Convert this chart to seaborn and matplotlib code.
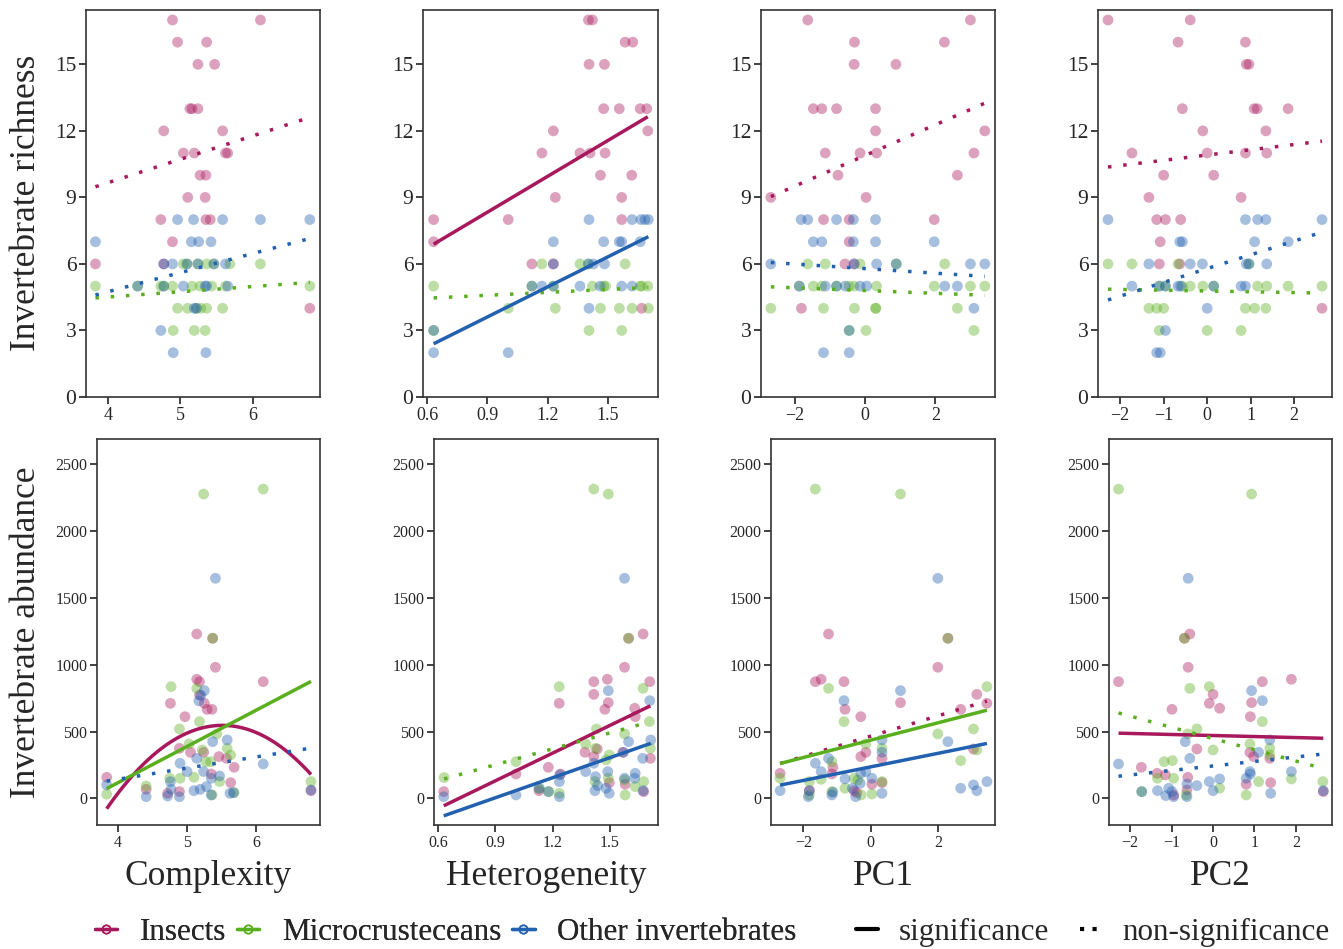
import numpy as np
import pandas as pd
import matplotlib
matplotlib.use("Agg")
import matplotlib.pyplot as plt
import seaborn as sns
from matplotlib.lines import Line2D

groups = ["Insects", "Microcrusteceans", "Other invertebrates"]
colors = ["#A8185C", "#5AAF1E", "#2260B0"]

# ---- Complexity / richness
cx_rich_ins_x = [4.89, 6.10, 4.96, 5.36, 5.24, 5.47, 5.13, 5.16, 5.24, 4.77, 5.58, 5.04, 5.19, 5.62, 5.65,
                 5.27, 5.35, 5.10, 5.34, 4.73, 5.35, 5.41, 4.89, 3.83, 4.77, 6.78]
cx_rich_ins_y = [17, 17, 16, 16, 15, 15, 13, 13, 13, 12, 12, 11, 11, 11, 11, 10, 10, 9, 9, 8, 8, 8, 7, 6, 6, 4]
cx_rich_mic_x = [5.04, 5.09, 5.24, 5.36, 5.46, 5.68, 6.10, 3.83, 4.41, 4.73, 4.77, 4.89, 5.16, 5.27, 5.43,
                 5.62, 6.78, 4.96, 5.10, 5.22, 5.28, 5.36, 5.58, 4.90, 5.19, 5.34]
cx_rich_mic_y = [6, 6, 6, 6, 6, 6, 6, 5, 5, 5, 5, 5, 5, 5, 5, 5, 5, 4, 4, 4, 4, 4, 4, 3, 3, 3]
cx_rich_oth_x = [4.96, 5.18, 5.58, 6.10, 6.78, 3.83, 5.15, 5.25, 5.42, 4.77, 4.89, 5.09, 5.24, 5.46, 5.62,
                 4.41, 4.77, 5.04, 5.34, 5.36, 5.65, 5.19, 5.22, 4.73, 4.90, 5.35]
cx_rich_oth_y = [8, 8, 8, 8, 8, 7, 7, 7, 7, 6, 6, 6, 6, 6, 6, 5, 5, 5, 5, 5, 5, 4, 4, 3, 2, 2]

# ---- Heterogeneity / richness
he_rich_ins_x = [1.404, 1.424, 1.587, 1.625, 1.407, 1.484, 1.480, 1.558, 1.662, 1.695, 1.229, 1.700, 1.172,
                 1.362, 1.412, 1.487, 1.464, 1.620, 1.239, 1.570, 0.632, 1.004, 1.570, 0.632, 1.122, 1.229, 1.670]
he_rich_ins_y = [17, 17, 16, 16, 15, 15, 13, 13, 13, 13, 12, 12, 11, 11, 11, 11, 10, 10, 9, 9, 8, 8, 8, 7, 6, 6, 4]
he_rich_mic_x = [1.172, 1.362, 1.404, 1.587, 0.632, 1.122, 1.229, 1.424, 1.480, 1.490, 1.662, 1.670, 1.700,
                 1.004, 1.239, 1.464, 1.558, 1.622, 1.703, 0.632, 1.407, 1.570]
he_rich_mic_y = [6, 6, 6, 6, 5, 5, 5, 5, 5, 5, 5, 5, 5, 4, 4, 4, 4, 4, 4, 3, 3, 3]
he_rich_oth_x = [1.407, 1.622, 1.666, 1.686, 1.703, 1.229, 1.480, 1.558, 1.570, 1.662, 1.229, 1.404, 1.429,
                 1.484, 1.122, 1.172, 1.229, 1.362, 1.462, 1.570, 1.622, 1.407, 0.632, 0.632, 1.004]
he_rich_oth_y = [8, 8, 8, 8, 8, 7, 7, 7, 7, 7, 6, 6, 6, 6, 5, 5, 5, 5, 5, 5, 5, 4, 3, 2, 2]

# ---- PC1 / richness
p1_rich_ins_x = [-1.63, 3.00, -0.30, 2.26, -0.31, 0.88, -1.47, -1.23, -0.81, 0.30, 0.30, 3.41, -1.13, -0.14,
                 0.33, 3.10, -0.77, 2.63, -2.68, 0.03, -1.18, -0.45, 1.97, -0.45, -0.57, -0.31, -1.81]
p1_rich_ins_y = [17, 17, 16, 16, 15, 15, 13, 13, 13, 13, 12, 12, 11, 11, 11, 11, 10, 10, 9, 9, 8, 8, 8, 7, 6, 6, 4]
p1_rich_mic_x = [-1.63, -1.13, -0.14, 0.89, 2.27, -1.87, -1.47, -1.23, -0.81, -0.45, -0.31, 0.33, 1.97, 3.00,
                 3.41, -2.68, -1.18, -0.30, 0.30, 0.31, 2.63, -0.45, 0.03, 3.10]
p1_rich_mic_y = [6, 6, 6, 6, 6, 5, 5, 5, 5, 5, 5, 5, 5, 5, 5, 4, 4, 4, 4, 4, 4, 3, 3, 3]
p1_rich_oth_x = [-1.82, -1.63, -0.81, -0.33, 0.30, -1.47, -1.23, -0.33, 0.30, 1.97, -2.68, -0.31, 0.33, 0.89,
                 3.00, 3.41, -1.87, -1.13, -0.81, -0.56, -0.14, 0.05, 2.27, 2.63, 3.10, -0.45, -1.18, -0.45]
p1_rich_oth_y = [8, 8, 8, 8, 8, 7, 7, 7, 7, 7, 6, 6, 6, 6, 6, 6, 5, 5, 5, 5, 5, 5, 5, 5, 4, 3, 2, 2]

# ---- PC2 / richness
p2_rich_ins_x = [-2.28, -0.39, -0.67, 0.88, 0.90, 0.96, -0.57, 1.08, 1.15, 1.86, -0.10, 1.35, -1.73, 0.00,
                 0.88, 1.37, -1.00, 0.15, -1.34, 0.78, -1.16, -0.96, -0.61, -1.08, -1.10, -0.63, 2.64]
p2_rich_ins_y = [17, 17, 16, 16, 15, 15, 13, 13, 13, 13, 12, 12, 11, 11, 11, 11, 10, 10, 9, 9, 8, 8, 8, 7, 6, 6, 4]
p2_rich_mic_x = [-2.28, -1.73, -0.67, 0.96, -1.10, -0.96, -0.57, -0.39, -0.10, 0.15, 1.16, 1.37, 1.86, 2.64,
                 -1.34, -1.16, -1.00, 0.88, 1.09, 1.35, -1.10, 0.00, 0.78]
p2_rich_mic_y = [6, 6, 6, 6, 5, 5, 5, 5, 5, 5, 5, 5, 5, 5, 4, 4, 4, 4, 4, 4, 3, 3, 3]
p2_rich_oth_x = [-2.28, 0.88, 1.16, 1.35, 2.64, -0.63, -0.57, 1.09, 1.86, -1.34, -0.39, -0.11, 0.90, 0.96,
                 1.37, -1.73, -1.10, -0.96, -0.67, -0.61, 0.15, 0.78, 0.88, 0.00, -0.96, -1.16, -1.08]
p2_rich_oth_y = [8, 8, 8, 8, 8, 7, 7, 7, 7, 6, 6, 6, 6, 6, 6, 5, 5, 5, 5, 5, 5, 5, 5, 4, 3, 2, 2]

# ---- Complexity / abundance
cx_abun_ins_x = [5.14, 5.37, 5.41, 5.14, 5.18, 6.10, 4.76, 4.97, 5.18, 5.25, 5.29, 5.36, 4.89, 5.05, 5.24,
                 5.46, 5.57, 5.68, 3.84, 4.41, 4.72, 4.89, 5.35, 5.63, 6.79]
cx_abun_ins_y = [1230, 1198, 981, 891, 873, 873, 711, 611, 773, 711, 666, 666, 374, 344, 344,
                 312, 299, 232, 157, 67, 37, 50, 182, 117, 57]
cx_abun_mic_x = [5.24, 6.10, 4.77, 5.14, 5.18, 4.89, 5.43, 5.03, 5.58, 5.63, 5.22, 5.27, 4.75, 4.90, 5.10,
                 5.34, 5.47, 3.84, 6.79, 4.41, 5.36, 5.68, 5.37]
cx_abun_mic_y = [2278, 2315, 836, 823, 574, 519, 482, 407, 374, 324, 362, 274, 150, 150, 157,
                 274, 125, 30, 125, 92, 25, 42, 1198]
cx_abun_oth_x = [5.41, 5.25, 5.17, 5.20, 5.37, 5.58, 5.14, 6.10, 3.84, 4.90, 4.41, 4.76, 4.77, 4.72, 4.89,
                 5.00, 5.10, 5.19, 5.28, 5.35, 5.47, 5.62, 5.67, 6.79, 5.35, 5.24]
cx_abun_oth_y = [1647, 806, 729, 770, 424, 437, 299, 257, 100, 262, 12, 125, 67, 17, 12,
                 200, 57, 67, 87, 150, 167, 37, 42, 62, 25, 200]

# ---- Heterogeneity / abundance
he_abun_ins_x = [1.673, 1.597, 1.576, 1.486, 1.415, 1.708, 1.415, 1.491, 1.234, 1.473, 1.629, 1.632, 1.369,
                 1.415, 1.433, 1.567, 1.711, 1.177, 1.241, 1.008, 1.496, 1.579, 0.630, 1.128, 1.676]
he_abun_ins_y = [1230, 1198, 981, 891, 873, 873, 778, 716, 711, 666, 674, 611, 344,
                 312, 369, 344, 299, 232, 182, 182, 117, 105, 50, 57, 50]
he_abun_mic_x = [1.415, 1.491, 1.234, 1.673, 1.706, 1.576, 1.429, 1.373, 1.496, 1.711, 0.632, 1.008, 1.421,
                 1.479, 1.579, 1.632, 1.676, 1.235, 1.131, 1.180, 1.424, 1.597, 1.491, 1.576]
he_abun_mic_y = [2315, 2278, 836, 823, 574, 482, 519, 407, 324, 374, 155, 274, 125,
                 287, 25, 87, 125, 37, 75, 50, 374, 1198, 150, 137]
he_abun_oth_x = [1.576, 1.491, 1.708, 1.713, 1.597, 1.570, 1.415, 1.671, 1.373, 1.424, 1.488, 1.632, 1.629,
                 1.235, 1.237, 1.435, 1.479, 1.421, 1.496, 1.576, 1.673, 1.008, 0.630, 1.128, 1.235, 1.177]
he_abun_oth_y = [1647, 806, 731, 437, 424, 344, 262, 299, 200, 162, 200, 187, 150,
                 125, 175, 95, 75, 57, 37, 150, 57, 25, 12, 75, 12, 50]

# ---- PC1 / abundance
p1_abun_ins_x = [-1.25, 2.30, 2.00, -1.64, -1.47, -0.79, 0.89, 3.16, 3.46, -0.76, 2.68, -0.29, -2.69, -1.12,
                 -1.15, -0.14, -0.29, 0.34, 0.34, 0.04, 3.06, -1.82, -0.49, -0.41]
p1_abun_ins_y = [1230, 1198, 981, 873, 891, 873, 716, 778, 711, 666, 666, 611, 187, 232,
                 182, 344, 312, 299, 117, 105, 369, 57, 57, 42]
p1_abun_mic_x = [-1.64, 0.89, -1.25, -0.79, 2.00, 3.06, 3.46, -0.14, 0.34, 3.16, 2.68, -1.15, -2.69, -1.47,
                 -1.82, -0.76, -0.49, -0.28, 0.04, 0.34, 2.30, -1.82, -1.15, -0.38]
p1_abun_mic_y = [2315, 2278, 823, 574, 482, 519, 836, 407, 374, 362, 282, 274, 150, 142,
                 125, 75, 150, 25, 32, 125, 1198, 25, 50, 137]
p1_abun_oth_x = [2.00, 0.89, -0.79, 0.34, 2.30, -1.64, -1.25, -1.47, -0.14, -0.76, 0.04, 0.34, -2.69, -1.82,
                 -1.85, -1.15, -1.12, -0.54, -0.44, -0.31, 0.34, 2.68, 3.06, 3.16, 3.46, -0.29]
p1_abun_oth_y = [1647, 806, 731, 437, 424, 262, 299, 200, 200, 145, 150, 344, 57, 57,
                 12, 25, 45, 75, 12, 112, 37, 75, 100, 57, 125, 187]

# ---- PC2 / abundance
p2_abun_ins_x = [-2.28, -0.56, -0.69, -0.60, -0.99, -0.09, 0.00, 0.16, 0.93, 1.19, 1.89, 0.90, -1.73, -1.35,
                 -1.15, -0.39, 0.89, 0.98, 1.37, -0.61, 1.39, 0.80, -0.63, -0.95, 2.66]
p2_abun_ins_y = [873, 1230, 1198, 981, 666, 711, 778, 674, 716, 873, 891, 611, 232, 187,
                 175, 369, 344, 312, 299, 157, 117, 105, 62, 25, 50]
p2_abun_mic_x = [-2.28, 0.93, -0.56, -0.09, 1.19, -0.39, -0.61, 0.00, 0.89, 1.37, -1.18, -0.98, 1.37, -1.34,
                 -0.95, 1.89, 2.65, 0.16, 0.80, -0.65, 1.10, -0.69, -1.72]
p2_abun_mic_y = [2315, 2278, 823, 836, 574, 519, 482, 362, 407, 374, 274, 282, 324, 150,
                 150, 145, 125, 75, 25, 25, 125, 1198, 50]
p2_abun_oth_x = [-0.60, 0.93, 1.19, -0.67, 1.37, 1.10, -0.56, -2.28, 1.89, 0.89, -0.09, 0.16, -0.39, 0.80,
                 0.90, -1.34, -1.14, -1.07, -0.95, -0.63, -0.63, 0.00, 1.39, 2.66, -1.72, -0.99]
p2_abun_oth_y = [1647, 806, 731, 424, 437, 344, 299, 257, 200, 200, 125, 145, 95, 150,
                 182, 57, 20, 75, 12, 12, 107, 57, 37, 57, 50, 50]

# fitted model coefficients (polynomial, highest order first) and significance
fit_cx_rich = {"Insects": ([1.06, 5.42], False), "Microcrusteceans": ([0.237, 3.56], False),
               "Other invertebrates": ([0.864, 1.29], False)}
fit_he_rich = {"Insects": ([5.38, 3.49], True), "Microcrusteceans": ([0.44, 4.19], False),
               "Other invertebrates": ([4.51, -0.45], True)}
fit_p1_rich = {"Insects": ([0.692, 10.89], False), "Microcrusteceans": ([-0.0624, 4.80], False),
               "Other invertebrates": ([-0.103, 5.79], False)}
fit_p2_rich = {"Insects": ([0.237, 10.91], False), "Microcrusteceans": ([-0.0355, 4.78], False),
               "Other invertebrates": ([0.621, 5.79], False)}
fit_cx_abun = {"Insects": ([-224, 2468, -6252], True), "Microcrusteceans": ([272, -972], True),
               "Other invertebrates": ([83.8, -193], False)}
fit_he_abun = {"Insects": ([692, -492], True), "Microcrusteceans": ([397, -106], False),
               "Other invertebrates": ([501, -447], True)}
fit_p1_abun = {"Insects": ([76, 465], False), "Microcrusteceans": ([64.9, 435], True),
               "Other invertebrates": ([50.7, 235], True)}
fit_p2_abun = {"Insects": ([-7.7, 470], True), "Microcrusteceans": ([-84.2, 447], False),
               "Other invertebrates": ([33.7, 242], False)}

xlabels = ["Complexity", "Heterogeneity", "PC1", "PC2"]
ylabels = ["Invertebrate richness", "Invertebrate abundance"]


def frame(gx, gy):
    parts = []
    for g, (x, y) in zip(groups, zip(gx, gy)):
        parts.append(pd.DataFrame({"x": x, "y": y, "group": g}))
    return pd.concat(parts, ignore_index=True)


panels = [
    (frame([cx_rich_ins_x, cx_rich_mic_x, cx_rich_oth_x], [cx_rich_ins_y, cx_rich_mic_y, cx_rich_oth_y]), fit_cx_rich),
    (frame([he_rich_ins_x, he_rich_mic_x, he_rich_oth_x], [he_rich_ins_y, he_rich_mic_y, he_rich_oth_y]), fit_he_rich),
    (frame([p1_rich_ins_x, p1_rich_mic_x, p1_rich_oth_x], [p1_rich_ins_y, p1_rich_mic_y, p1_rich_oth_y]), fit_p1_rich),
    (frame([p2_rich_ins_x, p2_rich_mic_x, p2_rich_oth_x], [p2_rich_ins_y, p2_rich_mic_y, p2_rich_oth_y]), fit_p2_rich),
    (frame([cx_abun_ins_x, cx_abun_mic_x, cx_abun_oth_x], [cx_abun_ins_y, cx_abun_mic_y, cx_abun_oth_y]), fit_cx_abun),
    (frame([he_abun_ins_x, he_abun_mic_x, he_abun_oth_x], [he_abun_ins_y, he_abun_mic_y, he_abun_oth_y]), fit_he_abun),
    (frame([p1_abun_ins_x, p1_abun_mic_x, p1_abun_oth_x], [p1_abun_ins_y, p1_abun_mic_y, p1_abun_oth_y]), fit_p1_abun),
    (frame([p2_abun_ins_x, p2_abun_mic_x, p2_abun_oth_x], [p2_abun_ins_y, p2_abun_mic_y, p2_abun_oth_y]), fit_p2_abun),
]

sns.set_style("ticks")
plt.rcParams['font.family'] = ['Liberation Serif', 'DejaVu Serif']
plt.rcParams['axes.edgecolor'] = '#333333'
plt.rcParams['axes.linewidth'] = 1.2

W, H = 1343, 949
fig = plt.figure(figsize=(W / 100, H / 100), dpi=100)

# axes boxes in pixels
row_px = [(10, 397), (439, 825)]
col_px = [[(86, 320), (423, 658), (761, 995), (1098, 1332)],
          [(97, 320), (434, 658), (771, 995), (1109, 1332)]]
xlims = [(3.70, 6.92), (0.579, 1.751), (-2.96, 3.70), (-2.51, 2.87)]
xticks = [[4, 5, 6], [0.6, 0.9, 1.2, 1.5], [-2, 0, 2], [-2, -1, 0, 1, 2]]
ylims = [(0, 17.45), (-200, 2690)]
yticks = [[0, 3, 6, 9, 12, 15], [0, 500, 1000, 1500, 2000, 2500]]
palette = dict(zip(groups, colors))
dotted = (0, (1, 3.4))

for i, (df, fits) in enumerate(panels):
    r, c = divmod(i, 4)
    top, bot = row_px[r]
    left, right = col_px[r][c]
    ax = fig.add_axes([left / W, 1 - bot / H, (right - left) / W, (bot - top) / H])
    sns.scatterplot(data=df, x="x", y="y", hue="group", hue_order=groups, palette=palette,
                    s=60, alpha=0.4, edgecolor="none", legend=False, ax=ax)
    for g in groups:
        coefs, sig = fits[g]
        xs = df.loc[df.group == g, "x"]
        xx = np.linspace(xs.min(), xs.max(), 200)
        ax.plot(xx, np.polyval(coefs, xx), color=palette[g], lw=2.5,
                ls="-" if sig else dotted, dash_capstyle="butt", solid_capstyle="butt")
    ax.set_xlim(xlims[c])
    ax.set_ylim(ylims[r])
    ax.set_xticks(xticks[c])
    ax.set_yticks(yticks[r])
    ax.set_xticklabels([f"{t:g}".replace("-", "\u2212") for t in xticks[c]])
    ax.set_xlabel("")
    ax.set_ylabel("")
    for s in ax.spines.values():
        s.set_visible(True)
    ax.tick_params(direction="out", length=5, width=1.3, color="#333333", pad=2)
    if r == 0:
        ax.tick_params(axis="y", labelsize=15.5)
        ax.tick_params(axis="x", labelsize=13)
    else:
        ax.tick_params(labelsize=11.5)
        ax.set_xlabel(xlabels[c], fontsize=25.5, labelpad=7)

fig.text(27 / W, 1 - 203 / H, ylabels[0], rotation=90, ha="center", va="center", fontsize=25.5)
fig.text(27 / W, 1 - 632 / H, ylabels[1], rotation=90, ha="center", va="center", fontsize=25.5)

grp_handles = [Line2D([], [], color=col, lw=2.4, marker="o", markerfacecolor="none",
                      markeredgecolor=col, markersize=6, markeredgewidth=1.1) for col in colors]
leg1 = fig.legend(grp_handles, groups, loc="center left", bbox_to_anchor=(95 / W, 1 - 932 / H),
                  ncol=3, frameon=False, fontsize=22.4, handlelength=0.72, handletextpad=0.72,
                  columnspacing=0.35, borderaxespad=0, borderpad=0)
sig_handles = [Line2D([], [], color="black", lw=3),
               Line2D([], [], color="black", lw=3, ls=(0, (1, 2.0)), dash_capstyle="butt")]
fig.legend(sig_handles, ["significance", "non-significance"], loc="center right",
           bbox_to_anchor=(1330 / W, 1 - 932 / H), ncol=2, frameon=False, fontsize=22.4,
           handlelength=0.72, handletextpad=0.65, columnspacing=1.0, borderaxespad=0, borderpad=0)
fig.add_artist(leg1)

fig.savefig("out.png", dpi=100)
